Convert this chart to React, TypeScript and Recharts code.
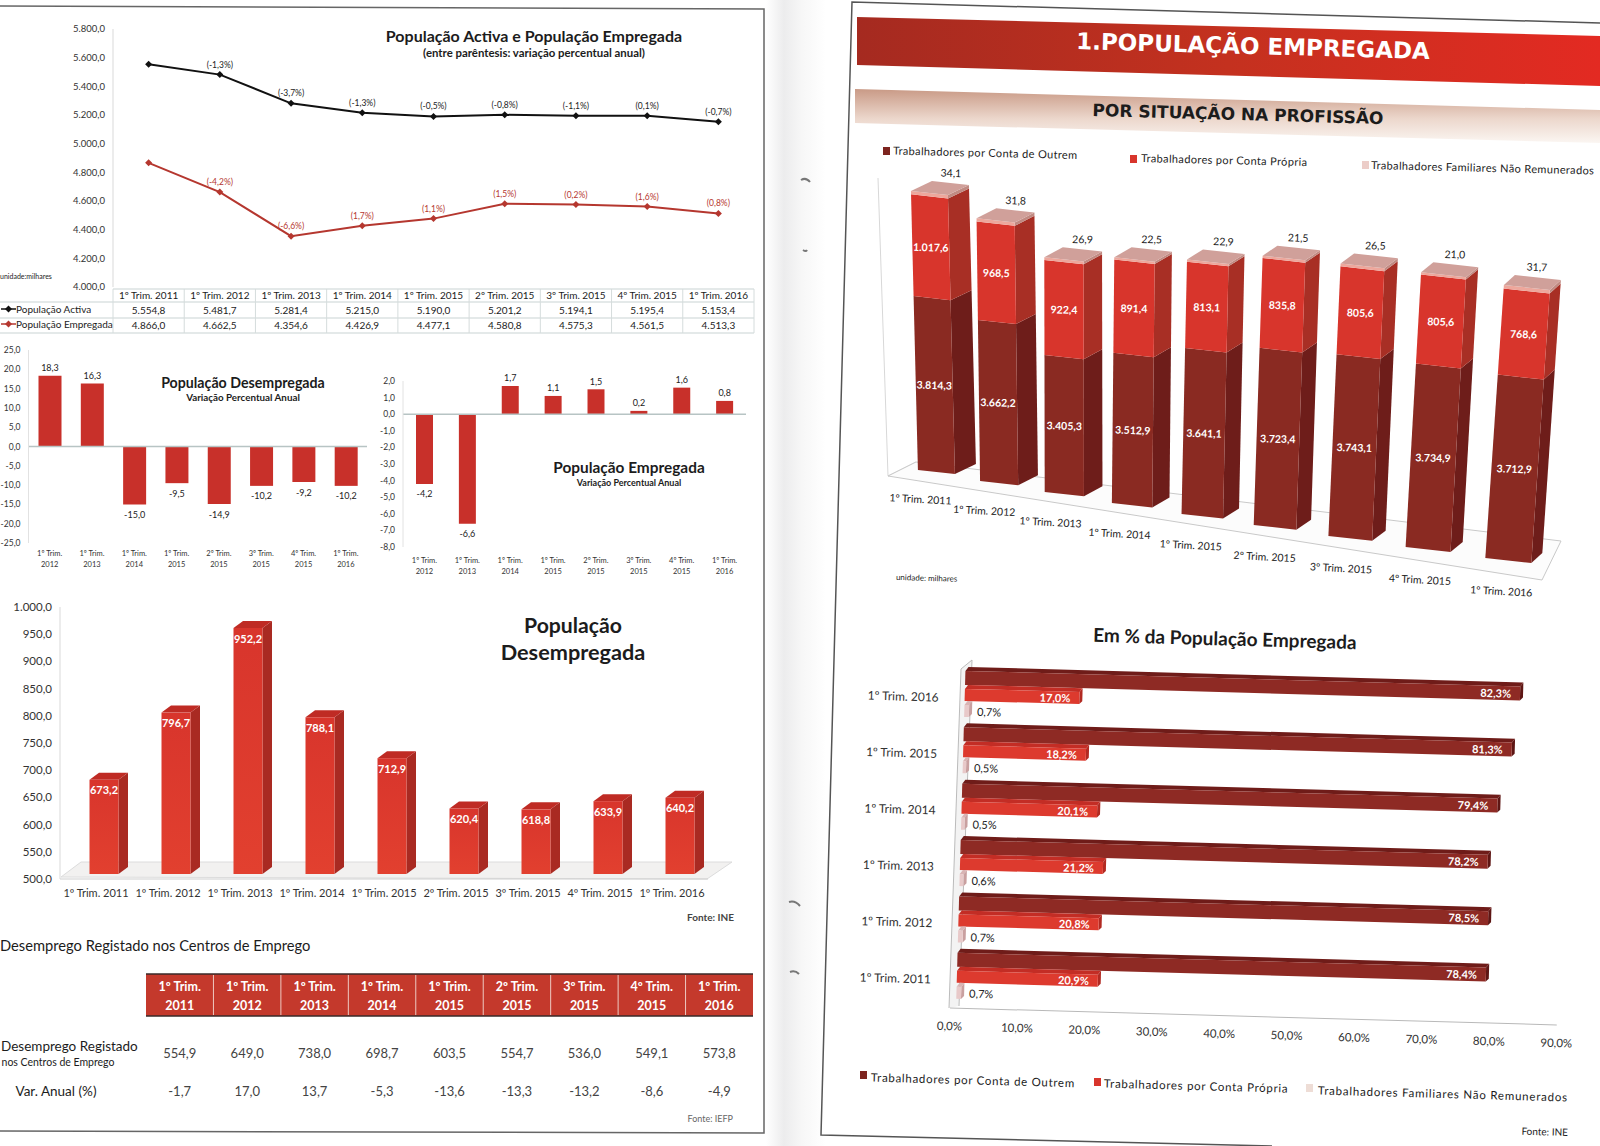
import {
  BarChart,
  Bar,
  LineChart,
  Line,
  XAxis,
  YAxis,
  LabelList,
  ReferenceLine,
} from 'recharts';

const FONT = 'Lato, "Noto Sans", sans-serif';
const HEAD_FONT = '"DejaVu Sans", sans-serif';

const quarters = [
  '1º Trim. 2011', '1º Trim. 2012', '1º Trim. 2013', '1º Trim. 2014', '1º Trim. 2015',
  '2º Trim. 2015', '3º Trim. 2015', '4º Trim. 2015', '1º Trim. 2016',
];
const activa = [5554.8, 5481.7, 5281.4, 5215.0, 5190.0, 5201.2, 5194.1, 5195.4, 5153.4];
const empregada = [4866.0, 4662.5, 4354.6, 4426.9, 4477.1, 4580.8, 4575.3, 4561.5, 4513.3];
const activaVar = ['', '(-1,3%)', '(-3,7%)', '(-1,3%)', '(-0,5%)', '(-0,8%)', '(-1,1%)', '(0,1%)', '(-0,7%)'];
const empregadaVar = ['', '(-4,2%)', '(-6,6%)', '(1,7%)', '(1,1%)', '(1,5%)', '(0,2%)', '(1,6%)', '(0,8%)'];
const lineTicks = [4000, 4200, 4400, 4600, 4800, 5000, 5200, 5400, 5600, 5800];

const varQuarters = quarters.slice(1);
const desempregadaVar = [18.3, 16.3, -15.0, -9.5, -14.9, -10.2, -9.2, -10.2];
const empregadaVarPct = [-4.2, -6.6, 1.7, 1.1, 1.5, 0.2, 1.6, 0.8];
const desVarTicks = [-25, -20, -15, -10, -5, 0, 5, 10, 15, 20, 25];
const empVarTicks = [-8, -7, -6, -5, -4, -3, -2, -1, 0, 1, 2];

const desempregada = [673.2, 796.7, 952.2, 788.1, 712.9, 620.4, 618.8, 633.9, 640.2];
const desTicks = [500, 550, 600, 650, 700, 750, 800, 850, 900, 950, 1000];

const registado = [554.9, 649.0, 738.0, 698.7, 603.5, 554.7, 536.0, 549.1, 573.8];
const registadoVar = [-1.7, 17.0, 13.7, -5.3, -13.6, -13.3, -13.2, -8.6, -4.9];

const outrem = [3814.3, 3662.2, 3405.3, 3512.9, 3641.1, 3723.4, 3743.1, 3734.9, 3712.9];
const propria = [1017.6, 968.5, 922.4, 891.4, 813.1, 835.8, 805.6, 805.6, 768.6];
const familiares = [34.1, 31.8, 26.9, 22.5, 22.9, 21.5, 26.5, 21.0, 31.7];

const pctQuarters = ['1º Trim. 2016', '1º Trim. 2015', '1º Trim. 2014', '1º Trim. 2013', '1º Trim. 2012', '1º Trim. 2011'];
const pctOutrem = [82.3, 81.3, 79.4, 78.2, 78.5, 78.4];
const pctPropria = [17.0, 18.2, 20.1, 21.2, 20.8, 20.9];
const pctFamiliares = [0.7, 0.5, 0.5, 0.6, 0.7, 0.7];
const pctTicks = [0, 10, 20, 30, 40, 50, 60, 70, 80, 90];

// --- tabelas para a biblioteca ---
const lineData = quarters.map((q, i) => ({
  q, activa: activa[i], empregada: empregada[i], activaVar: activaVar[i], empregadaVar: empregadaVar[i],
}));
const desVarData = varQuarters.map((q, i) => ({ q, v: desempregadaVar[i] }));
const empVarData = varQuarters.map((q, i) => ({ q, v: empregadaVarPct[i] }));
const desData = quarters.map((q, i) => ({ q, v: desempregada[i] }));
const stackData = quarters.map((q, i) => ({ q, outrem: outrem[i], propria: propria[i], familiares: familiares[i] }));
const pctData = pctQuarters.map((q, i) => ({
  q, outrem: pctOutrem[i], propria: pctPropria[i], familiares: pctFamiliares[i],
}));

const fmt = (v: number) => {
  const [a, b] = Math.abs(v).toFixed(1).split('.');
  return `${v < 0 ? '-' : ''}${a.replace(/\B(?=(\d{3})+$)/g, '.')},${b}`;
};
const fmtPct = (v: number) => `${fmt(v)}%`;

const pts = (p: number[][]) => p.map((a) => `${a[0]},${a[1]}`).join(' ');

// texto em coordenadas de página; rot roda em torno do próprio ponto
function T({ x, y, s, a = 'middle', w, c = '#1c1c1c', rot, ls, f = FONT, children }: any) {
  return (
    <text
      x={x}
      y={y}
      fontSize={s}
      textAnchor={a}
      dominantBaseline="central"
      fontWeight={w}
      fill={c}
      letterSpacing={ls}
      fontFamily={f}
      transform={rot ? `rotate(${rot} ${x} ${y})` : undefined}
    >
      {children}
    </text>
  );
}

const TwoLineTick = ({ x, y, payload, dy1, dy2 }: any) => {
  const parts = String(payload.value).split(' ');
  return (
    <g>
      <text x={x} y={y + dy1} textAnchor="middle" dominantBaseline="central" fontSize={7.5} fill="#333" fontFamily={FONT}>
        {`${parts[0]} ${parts[1]}`}
      </text>
      <text x={x} y={y + dy2} textAnchor="middle" dominantBaseline="central" fontSize={7.5} fill="#333" fontFamily={FONT}>
        {parts[2]}
      </text>
    </g>
  );
};

// rótulo por cima das barras positivas e por baixo das negativas
const BarValue = ({ x, y, width, height, value }: any) => {
  const top = Math.min(y, y + height);
  const bot = Math.max(y, y + height);
  return (
    <text
      x={x + width / 2}
      y={value >= 0 ? top - 8 : bot + 10}
      textAnchor="middle"
      dominantBaseline="central"
      fontSize={9}
      fill="#222"
      fontFamily={FONT}
    >
      {fmt(value)}
    </text>
  );
};

// barra 3D da População Desempregada
const Bar3D = ({ x, y, width, height, payload }: any) => {
  const fx = x + 7.5 + (width - 29) / 2;
  const top = y - 5;
  const bot = y + height - 5;
  const w = 29;
  return (
    <g>
      <polygon points={pts([[fx + w, top], [fx + w + 9.5, top - 7], [fx + w + 9.5, bot - 7], [fx + w, bot]])} fill="#a92a22" />
      <polygon points={pts([[fx, top], [fx + 9.5, top - 7], [fx + w + 9.5, top - 7], [fx + w, top]])} fill="#bf2b24" />
      <rect x={fx} y={top} width={w} height={bot - top} fill="url(#redFront)" />
      <text x={fx + w / 2} y={top + 10} textAnchor="middle" dominantBaseline="central" fontSize={11} fontWeight={700} fill="#fff" fontFamily={FONT}>
        {fmt(payload.v)}
      </text>
    </g>
  );
};

// barra empilhada em perspectiva; o rect vem da escala da biblioteca e é só projetado
const STACK_H = 460;
const STACK_TOP = 160;
const stackSeg = (key: string, front: string, side: string) => (props: any) => {
  const { x, y, width, height, index, payload } = props;
  const t = index / 8;
  const base = 470 + 88 * t - STACK_TOP;
  const s = 1 + 0.12 * t;
  const map = (yy: number) => base - s * (STACK_H - Math.min(yy, STACK_H));
  const yt = map(y);
  const yb = map(y + height);
  const yRef = 193 + 92 * t - STACK_TOP;
  const lean = 0.025 - 0.093 * t;
  const x0 = x - 80 * t * (1 - t);
  const xl = (yy: number) => x0 + lean * (yy - yRef);
  const w = 37 + 9 * t;
  const sk = 0.11 * w;
  const dx = 21 - 10 * t;
  const dy = 10;
  const isTop = key === 'familiares';
  const mid = (yt + yb) / 2 + sk / 2;
  return (
    <g>
      <polygon points={pts([[xl(yt) + w, yt + sk], [xl(yt) + w + dx, yt + sk - dy], [xl(yb) + w + dx, yb + sk - dy], [xl(yb) + w, yb + sk]])} fill={side} />
      <polygon points={pts([[xl(yt), yt], [xl(yt) + w, yt + sk], [xl(yb) + w, yb + sk], [xl(yb), yb]])} fill={front} />
      {isTop ? (
        <>
          <polygon points={pts([[xl(yt), yt], [xl(yt) + w, yt + sk], [xl(yt) + w + dx, yt + sk - dy], [xl(yt) + dx, yt - dy]])} fill="#d0a09a" />
          <T x={xl(yt) + 40 - 7 * t} y={yt - 18} s={10.5} rot={1.6}>{fmt(payload[key])}</T>
        </>
      ) : (
        <T x={xl(mid) + w / 2} y={mid} s={10.5} w={700} c="#fff" rot={1.6}>{fmt(payload[key])}</T>
      )}
      {key === 'outrem' ? (
        <T x={xl(yb) + w / 2 - 16 + 9 * t} y={yb + 29 + 4 * t} s={10.5} rot={3}>{payload.q}</T>
      ) : null}
    </g>
  );
};

// barra horizontal do gráfico em %
const hbar = (key: string, front: string, topFace: string, side: string, outside: boolean, extra: number) => (props: any) => {
  const { x, y, width, height, payload } = props;
  const fx = x + 6;
  const fy = y - 5 - extra;
  const h = height + extra;
  const d = 3;
  const tf = 4;
  return (
    <g>
      <polygon points={pts([[fx, fy + tf], [fx + d, fy], [fx + d + width, fy], [fx + width, fy + tf]])} fill={topFace} />
      <polygon points={pts([[fx + width, fy + tf], [fx + d + width, fy], [fx + d + width, fy + h - 3], [fx + width, fy + h]])} fill={side} />
      <rect x={fx} y={fy + tf} width={width} height={h - tf} fill={front} />
      {outside ? (
        <text x={fx + width + 8} y={fy + h / 2 + 2} dominantBaseline="central" fontSize={11} fill="#222" fontFamily={FONT}>
          {fmtPct(payload[key])}
        </text>
      ) : (
        <text x={fx + width - 9} y={fy + tf + (h - tf) / 2} textAnchor="end" dominantBaseline="central" fontSize={11} fontWeight={700} fill="#fff" fontFamily={FONT}>
          {fmtPct(payload[key])}
        </text>
      )}
    </g>
  );
};

const box = (left: number, top: number): any => ({ position: 'absolute', left, top });
const axisTick = (size: number, color = '#333') => ({ fontSize: size, fill: color, fontFamily: FONT });

function Background() {
  const colW = 641 / 9;
  const headW = 607 / 9;
  return (
    <svg width={1600} height={1146} style={box(0, 0)}>
      <defs>
        <linearGradient id="gutter" x1="0" x2="1" y1="0" y2="0">
          <stop offset="0" stopColor="#fff" />
          <stop offset="0.3" stopColor="#ececed" />
          <stop offset="0.6" stopColor="#f7f7f7" />
          <stop offset="1" stopColor="#fff" />
        </linearGradient>
        <linearGradient id="head1" x1="0" x2="1" y1="0" y2="0">
          <stop offset="0" stopColor="#a52a20" />
          <stop offset="0.5" stopColor="#c4311f" />
          <stop offset="1" stopColor="#e32a22" />
        </linearGradient>
        <linearGradient id="head2" x1="0" x2="0" y1="0" y2="1">
          <stop offset="0" stopColor="#c99a86" />
          <stop offset="0.55" stopColor="#ecd7cc" />
          <stop offset="1" stopColor="#fbf6f2" />
        </linearGradient>
      </defs>

      {/* folha esquerda */}
      <rect x={766} y={0} width={60} height={1146} fill="url(#gutter)" />
      <polyline points="0,6 764,9 764,1133 0,1131" fill="none" stroke="#666" strokeWidth={1.5} />
      {/* furos do agrafo */}
      <path d="M801,180 q5,-3 9,2 M803,250 q3,2 4,0 M789,902 q6,-2 11,4 M790,972 q5,-2 9,2" fill="none" stroke="#777" strokeWidth={2} />

      {/* gráfico de linhas: títulos e quadro */}
      <T x={534} y={35} s={16} w={700}>População Activa e População Empregada</T>
      <T x={534} y={52} s={11.4} w={700}>(entre parêntesis: variação percentual anual)</T>
      <T x={0} y={276} s={7} a="start">unidade:milhares</T>
      {[289, 302, 318, 333].map((y) => (
        <line key={y} x1={y === 289 ? 113 : 0} x2={754} y1={y} y2={y} stroke="#c9d3d3" />
      ))}
      {Array.from({ length: 10 }, (_, i) => 113 + i * colW).map((x) => (
        <line key={x} x1={x} x2={x} y1={289} y2={333} stroke="#d5dcdc" />
      ))}
      {quarters.map((q, i) => (
        <g key={q}>
          <T x={113 + colW * (i + 0.5)} y={295} s={10}>{q}</T>
          <T x={113 + colW * (i + 0.5)} y={310} s={10}>{fmt(activa[i])}</T>
          <T x={113 + colW * (i + 0.5)} y={325} s={10}>{fmt(empregada[i])}</T>
        </g>
      ))}
      <line x1={1} x2={16} y1={309} y2={309} stroke="#111" strokeWidth={1.5} />
      <polygon points="5,309 8.5,305.5 12,309 8.5,312.5" fill="#111" />
      <T x={16} y={309} s={10} a="start">População Activa</T>
      <line x1={1} x2={16} y1={324} y2={324} stroke="#b5372f" strokeWidth={1.5} />
      <polygon points="5,324 8.5,320.5 12,324 8.5,327.5" fill="#b5372f" />
      <T x={16} y={324} s={10} a="start">População Empregada</T>

      {/* variações */}
      <T x={243} y={382} s={14.2} w={700}>População Desempregada</T>
      <T x={243} y={397} s={9.8} w={700}>Variação Percentual Anual</T>
      <T x={629} y={467} s={15.4} w={700}>População Empregada</T>
      <T x={629} y={482} s={9} w={700}>Variação Percentual Anual</T>

      {/* chão da População Desempregada */}
      <polygon points="61,877 81,862 732,862 707,879" fill="#f2f1f0" stroke="#dcdcdc" />
      <T x={573} y={625} s={21.2} w={700}>População</T>
      <T x={573} y={652} s={21.7} w={700}>Desempregada</T>
      <T x={734} y={917} s={10} a="end" w={700} c="#444">Fonte: INE</T>

      {/* quadro do desemprego registado */}
      <T x={0} y={945} s={14.7} a="start">Desemprego Registado nos Centros de Emprego</T>
      <rect x={146} y={974} width={607} height={42} fill="#c4392c" />
      <line x1={146} x2={753} y1={974} y2={974} stroke="#3a2a28" strokeWidth={1.5} />
      <line x1={146} x2={753} y1={1016} y2={1016} stroke="#3a2a28" strokeWidth={1.5} />
      {quarters.map((q, i) => {
        const parts = q.split(' ');
        const cx = 146 + headW * (i + 0.5);
        return (
          <g key={q}>
            {i > 0 ? <line x1={146 + headW * i} x2={146 + headW * i} y1={975} y2={1015} stroke="#eec9c2" /> : null}
            <T x={cx} y={986} s={12.5} w={700} c="#fff">{`${parts[0]} ${parts[1]}`}</T>
            <T x={cx} y={1005} s={12.5} w={700} c="#fff">{parts[2]}</T>
            <T x={cx} y={1053} s={13} c="#444">{fmt(registado[i])}</T>
            <T x={cx} y={1091} s={13} c="#444">{fmt(registadoVar[i])}</T>
          </g>
        );
      })}
      <T x={1} y={1046} s={13.5} a="start">Desemprego Registado</T>
      <T x={58} y={1062} s={10.5}>nos Centros de Emprego</T>
      <T x={56} y={1091} s={13.5}>Var. Anual (%)</T>
      <T x={733} y={1118} s={9} a="end" c="#666">Fonte: IEFP</T>

      {/* folha direita, ligeiramente rodada no scanner */}
      <polyline points="1600,23 852,2 821,1135 1272,1146" fill="none" stroke="#555" strokeWidth={1.5} />
      <polygon points="857,17 1600,36 1600,86 857,65" fill="url(#head1)" />
      <T x={1253} y={46} s={23} w={700} c="#fff" rot={1.6} f={HEAD_FONT}>1.POPULAÇÃO EMPREGADA</T>
      <polygon points="855,89 1600,110 1600,143 855,123" fill="url(#head2)" />
      <T x={1238} y={114} s={17} w={700} rot={1.6} f={HEAD_FONT}>POR SITUAÇÃO NA PROFISSÃO</T>

      <rect x={883} y={147} width={7} height={8} fill="#7d241f" />
      <T x={893} y={150} s={11} a="start" rot={1.4} ls={0.35}>Trabalhadores por Conta de Outrem</T>
      <rect x={1130} y={155} width={7} height={8} fill="#d8352c" />
      <T x={1141} y={157.5} s={11} a="start" rot={1.4} ls={0.35}>Trabalhadores por Conta Própria</T>
      <rect x={1362} y={161} width={7} height={8} fill="#eccdc8" />
      <T x={1371} y={164.5} s={11} a="start" rot={1.4} ls={0.35}>Trabalhadores Familiares Não Remunerados</T>

      {/* caixa 3D do gráfico empilhado */}
      <polyline points="878,178 888,476 916,462" fill="none" stroke="#d8d8d8" />
      <polygon points="888,476 916,462 1561,541 1542,580" fill="#fcfcfc" stroke="#c9c9c9" />
      <T x={896} y={577} s={8} a="start" rot={1.6}>unidade: milhares</T>

      <T x={1225} y={638} s={19} w={700} rot={1.6}>Em % da População Empregada</T>
      <polyline points="949,1008 961,669 972,660 959,1006" fill="#f3f3f3" stroke="#bbb" />

      <rect x={860} y={1071} width={7} height={8} fill="#7d241f" />
      <T x={871} y={1077} s={11.5} a="start" rot={1.6} ls={0.7}>Trabalhadores por Conta de Outrem</T>
      <rect x={1094} y={1078} width={7} height={8} fill="#d8352c" />
      <T x={1104} y={1083} s={11.5} a="start" rot={1.6} ls={0.7}>Trabalhadores por Conta Própria</T>
      <rect x={1306} y={1084} width={7} height={8} fill="#eeddd6" />
      <T x={1318} y={1090} s={11.5} a="start" rot={1.6} ls={0.78}>Trabalhadores Familiares Não Remunerados</T>
      <T x={1568} y={1132} s={10} a="end" rot={1.6}>Fonte: INE</T>
    </svg>
  );
}

export default function App() {
  return (
    <div style={{ position: 'absolute', left: 0, top: 0, width: 1600, height: 1146, overflow: 'hidden', background: '#fff', fontFamily: FONT }}>
      <svg width={0} height={0} style={{ position: 'absolute' }}>
        <defs>
          <linearGradient id="redFront" x1="0" x2="0" y1="0" y2="1">
            <stop offset="0" stopColor="#d8352c" />
            <stop offset="1" stopColor="#e2402f" />
          </linearGradient>
        </defs>
      </svg>
      <Background />

      {/* População Activa e Empregada */}
      <div style={box(53, 14)}>
        <LineChart width={701} height={278} data={lineData} margin={{ top: 15, right: 0, bottom: 5, left: 0 }}>
          <XAxis dataKey="q" scale="band" hide />
          <YAxis
            width={60}
            domain={[4000, 5800]}
            ticks={lineTicks}
            interval={0}
            tickFormatter={fmt}
            tick={axisTick(9.5)}
            tickLine={false}
            axisLine={{ stroke: '#d9d9d9' }}
          />
          <Line
            dataKey="activa"
            stroke="#111"
            strokeWidth={2}
            isAnimationActive={false}
            dot={(p: any) => <polygon key={p.index} points={pts([[p.cx - 3.5, p.cy], [p.cx, p.cy - 3.5], [p.cx + 3.5, p.cy], [p.cx, p.cy + 3.5]])} fill="#111" />}
          >
            <LabelList dataKey="activaVar" position="top" offset={7} fontSize={8.5} fill="#222" fontFamily={FONT} />
          </Line>
          <Line
            dataKey="empregada"
            stroke="#b5372f"
            strokeWidth={2}
            isAnimationActive={false}
            dot={(p: any) => <polygon key={p.index} points={pts([[p.cx - 3.5, p.cy], [p.cx, p.cy - 3.5], [p.cx + 3.5, p.cy], [p.cx, p.cy + 3.5]])} fill="#b5372f" />}
          >
            <LabelList dataKey="empregadaVar" position="top" offset={7} fontSize={8.5} fill="#b5372f" fontFamily={FONT} />
          </Line>
        </LineChart>
      </div>

      {/* População Desempregada, variação */}
      <div style={box(0, 335)}>
        <BarChart width={367} height={250} data={desVarData} margin={{ top: 15, right: 0, bottom: 0, left: 0 }}>
          <XAxis
            dataKey="q"
            height={42}
            interval={0}
            axisLine={false}
            tickLine={false}
            tick={(p: any) => <TwoLineTick {...p} dy1={2} dy2={13} />}
          />
          <YAxis
            width={28.5}
            domain={[-25, 25]}
            ticks={desVarTicks}
            interval={0}
            tickFormatter={fmt}
            tick={axisTick(8.5)}
            tickLine={false}
            axisLine={{ stroke: '#e2e2e2' }}
          />
          <ReferenceLine y={0} stroke="#b7c4c4" strokeWidth={1.5} />
          <Bar dataKey="v" barSize={23} fill="#c8302a" isAnimationActive={false}>
            <LabelList dataKey="v" content={BarValue} />
          </Bar>
        </BarChart>
      </div>

      {/* População Empregada, variação */}
      <div style={box(370, 356)}>
        <BarChart width={376} height={233} data={empVarData} margin={{ top: 25, right: 0, bottom: 0, left: 0 }}>
          <XAxis
            dataKey="q"
            height={42}
            interval={0}
            axisLine={false}
            tickLine={false}
            tick={(p: any) => <TwoLineTick {...p} dy1={5} dy2={16} />}
          />
          <YAxis
            width={33}
            domain={[-8, 2]}
            ticks={empVarTicks}
            interval={0}
            tickFormatter={fmt}
            tick={axisTick(8.5)}
            tickLine={false}
            axisLine={{ stroke: '#e2e2e2' }}
          />
          <ReferenceLine y={0} stroke="#b7c4c4" strokeWidth={1.5} />
          <Bar dataKey="v" barSize={17} fill="#c8302a" isAnimationActive={false}>
            <LabelList dataKey="v" content={BarValue} />
          </Bar>
        </BarChart>
      </div>

      {/* População Desempregada */}
      <div style={box(0, 592)}>
        <BarChart width={708} height={320} data={desData} margin={{ top: 15, right: 0, bottom: 0, left: 0 }}>
          <XAxis
            dataKey="q"
            height={33}
            interval={0}
            tickLine={false}
            tickMargin={4}
            tick={axisTick(11)}
            axisLine={{ stroke: '#cfcfcf' }}
          />
          <YAxis
            width={60}
            domain={[500, 1000]}
            ticks={desTicks}
            interval={0}
            tickFormatter={fmt}
            tick={axisTick(11.5)}
            tickLine={false}
            axisLine={{ stroke: '#d9d9d9' }}
          />
          <Bar dataKey="v" barSize={29} shape={Bar3D} isAnimationActive={false} />
        </BarChart>
      </div>

      {/* Por situação na profissão, barras em perspectiva */}
      <div style={box(860, STACK_TOP)}>
        <BarChart width={740} height={STACK_H} data={stackData} margin={{ top: 0, right: 0, bottom: 0, left: 0 }}>
          <XAxis dataKey="q" hide padding={{ left: 32, right: 41 }} />
          <YAxis hide domain={[2075, 6675]} allowDataOverflow />
          <Bar dataKey="outrem" stackId="a" barSize={36} isAnimationActive={false} shape={stackSeg('outrem', '#8a2a22', '#6e1d1a')} />
          <Bar dataKey="propria" stackId="a" barSize={36} isAnimationActive={false} shape={stackSeg('propria', '#d8352c', '#a82f25')} />
          <Bar dataKey="familiares" stackId="a" barSize={36} isAnimationActive={false} shape={stackSeg('familiares', '#eda79c', '#c08a82')} />
        </BarChart>
      </div>

      {/* Em % da População Empregada */}
      <div style={{ ...box(830, 640), transform: 'rotate(1.6deg)', transformOrigin: '120px 368px' }}>
        <BarChart
          layout="vertical"
          width={770}
          height={418}
          data={pctData}
          barGap={0}
          margin={{ top: 29.6, right: 43, bottom: 0, left: 0 }}
        >
          <XAxis
            type="number"
            height={50}
            domain={[0, 90]}
            ticks={pctTicks}
            interval={0}
            tickFormatter={fmtPct}
            tick={axisTick(11.5)}
            tickLine={false}
            tickMargin={8}
            axisLine={{ stroke: '#b9b9b9' }}
          />
          <YAxis
            type="category"
            dataKey="q"
            width={120}
            interval={0}
            tick={axisTick(12)}
            tickLine={false}
            tickMargin={14}
            axisLine={false}
          />
          <Bar dataKey="outrem" barSize={16} isAnimationActive={false} shape={hbar('outrem', '#8e2a24', '#6f1c19', '#5e1614', false, 2)} />
          <Bar dataKey="propria" barSize={16} isAnimationActive={false} shape={hbar('propria', '#dd3a2e', '#c32d25', '#b22a22', false, 0)} />
          <Bar dataKey="familiares" barSize={16} isAnimationActive={false} shape={hbar('familiares', '#e8c9c9', '#d9b4b4', '#c9a0a0', true, 0)} />
        </BarChart>
      </div>
    </div>
  );
}
